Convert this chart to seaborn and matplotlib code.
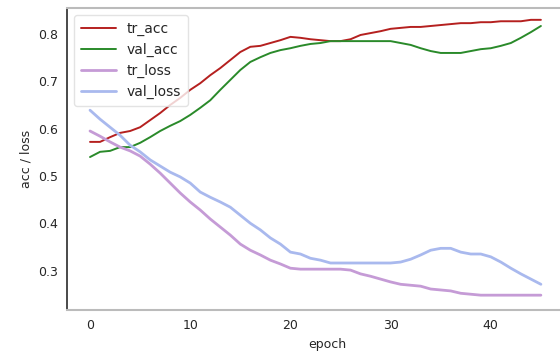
import numpy as np
import pandas as pd
import matplotlib
matplotlib.use("Agg")
import matplotlib.pyplot as plt
import seaborn as sns

epochs = list(range(46))

tr_acc = [0.572, 0.572, 0.582, 0.591, 0.595, 0.603, 0.618, 0.633, 0.650, 0.665,
          0.682, 0.696, 0.713, 0.728, 0.745, 0.762, 0.773, 0.775, 0.781, 0.787,
          0.794, 0.792, 0.789, 0.787, 0.785, 0.785, 0.789, 0.798, 0.802, 0.806,
          0.811, 0.813, 0.815, 0.815, 0.817, 0.819, 0.821, 0.823, 0.823, 0.825,
          0.825, 0.827, 0.827, 0.827, 0.830, 0.830]

val_acc = [0.540, 0.551, 0.553, 0.561, 0.561, 0.570, 0.582, 0.595, 0.606, 0.616,
           0.629, 0.644, 0.660, 0.682, 0.703, 0.724, 0.741, 0.751, 0.760, 0.766,
           0.770, 0.775, 0.779, 0.781, 0.785, 0.785, 0.785, 0.785, 0.785, 0.785,
           0.785, 0.781, 0.777, 0.770, 0.764, 0.760, 0.760, 0.760, 0.764, 0.768,
           0.770, 0.775, 0.781, 0.792, 0.804, 0.817]

tr_loss = [0.595, 0.584, 0.572, 0.561, 0.553, 0.542, 0.525, 0.506, 0.485, 0.464,
           0.445, 0.428, 0.409, 0.392, 0.375, 0.356, 0.343, 0.333, 0.322, 0.314,
           0.305, 0.303, 0.303, 0.303, 0.303, 0.303, 0.301, 0.293, 0.288, 0.282,
           0.276, 0.271, 0.269, 0.267, 0.261, 0.259, 0.257, 0.252, 0.250, 0.248,
           0.248, 0.248, 0.248, 0.248, 0.248, 0.248]

val_loss = [0.639, 0.620, 0.603, 0.586, 0.565, 0.551, 0.534, 0.521, 0.508, 0.498,
            0.485, 0.466, 0.455, 0.445, 0.434, 0.417, 0.400, 0.386, 0.369, 0.356,
            0.339, 0.335, 0.326, 0.322, 0.316, 0.316, 0.316, 0.316, 0.316, 0.316,
            0.316, 0.318, 0.324, 0.333, 0.343, 0.347, 0.347, 0.339, 0.335, 0.335,
            0.329, 0.318, 0.305, 0.293, 0.282, 0.271]

series_names = ["tr_acc", "val_acc", "tr_loss", "val_loss"]
x_ticks = [0, 10, 20, 30, 40]
y_ticks = [0.3, 0.4, 0.5, 0.6, 0.7, 0.8]

df = pd.DataFrame({
    "epoch": epochs * 4,
    "value": tr_acc + val_acc + tr_loss + val_loss,
    "metric": sum([[n] * len(epochs) for n in series_names], []),
})

sns.set_theme(style="white")
plt.rcParams["font.family"] = ["DejaVu Sans"]

fig = plt.figure(figsize=(5.6, 3.56), dpi=100)
ax = fig.add_axes([0.1196, 0.129, 0.9286, 0.8485])

palette = {"tr_acc": "#b5201f", "val_acc": "#2a8a2a",
           "tr_loss": "#c59bd6", "val_loss": "#a9b9ee"}
widths = {"tr_acc": 1.4, "val_acc": 1.4, "tr_loss": 2.0, "val_loss": 2.0}

for name in series_names:
    sub = df[df["metric"] == name]
    sns.lineplot(data=sub, x="epoch", y="value", color=palette[name],
                 linewidth=widths[name], label=name, ax=ax)

ax.set_xlim(-2.3, 49.6)
ax.set_ylim(0.2165, 0.855)
ax.set_xticks(x_ticks)
ax.set_yticks(y_ticks)
ax.tick_params(axis="both", labelsize=9, length=3, color="#888888")
ax.set_xlabel("epoch", fontsize=9)
ax.set_ylabel("acc / loss", fontsize=9)

for side in ["top", "bottom"]:
    ax.spines[side].set_color("#bbbbbb")
    ax.spines[side].set_linewidth(1.5)
ax.spines["left"].set_color("#333333")
ax.spines["right"].set_visible(False)

leg = ax.legend(loc="upper left", fontsize=10, frameon=True,
                handlelength=2.5, borderpad=0.5)
leg.get_frame().set_edgecolor("#dddddd")

fig.savefig("out.png", dpi=100)
